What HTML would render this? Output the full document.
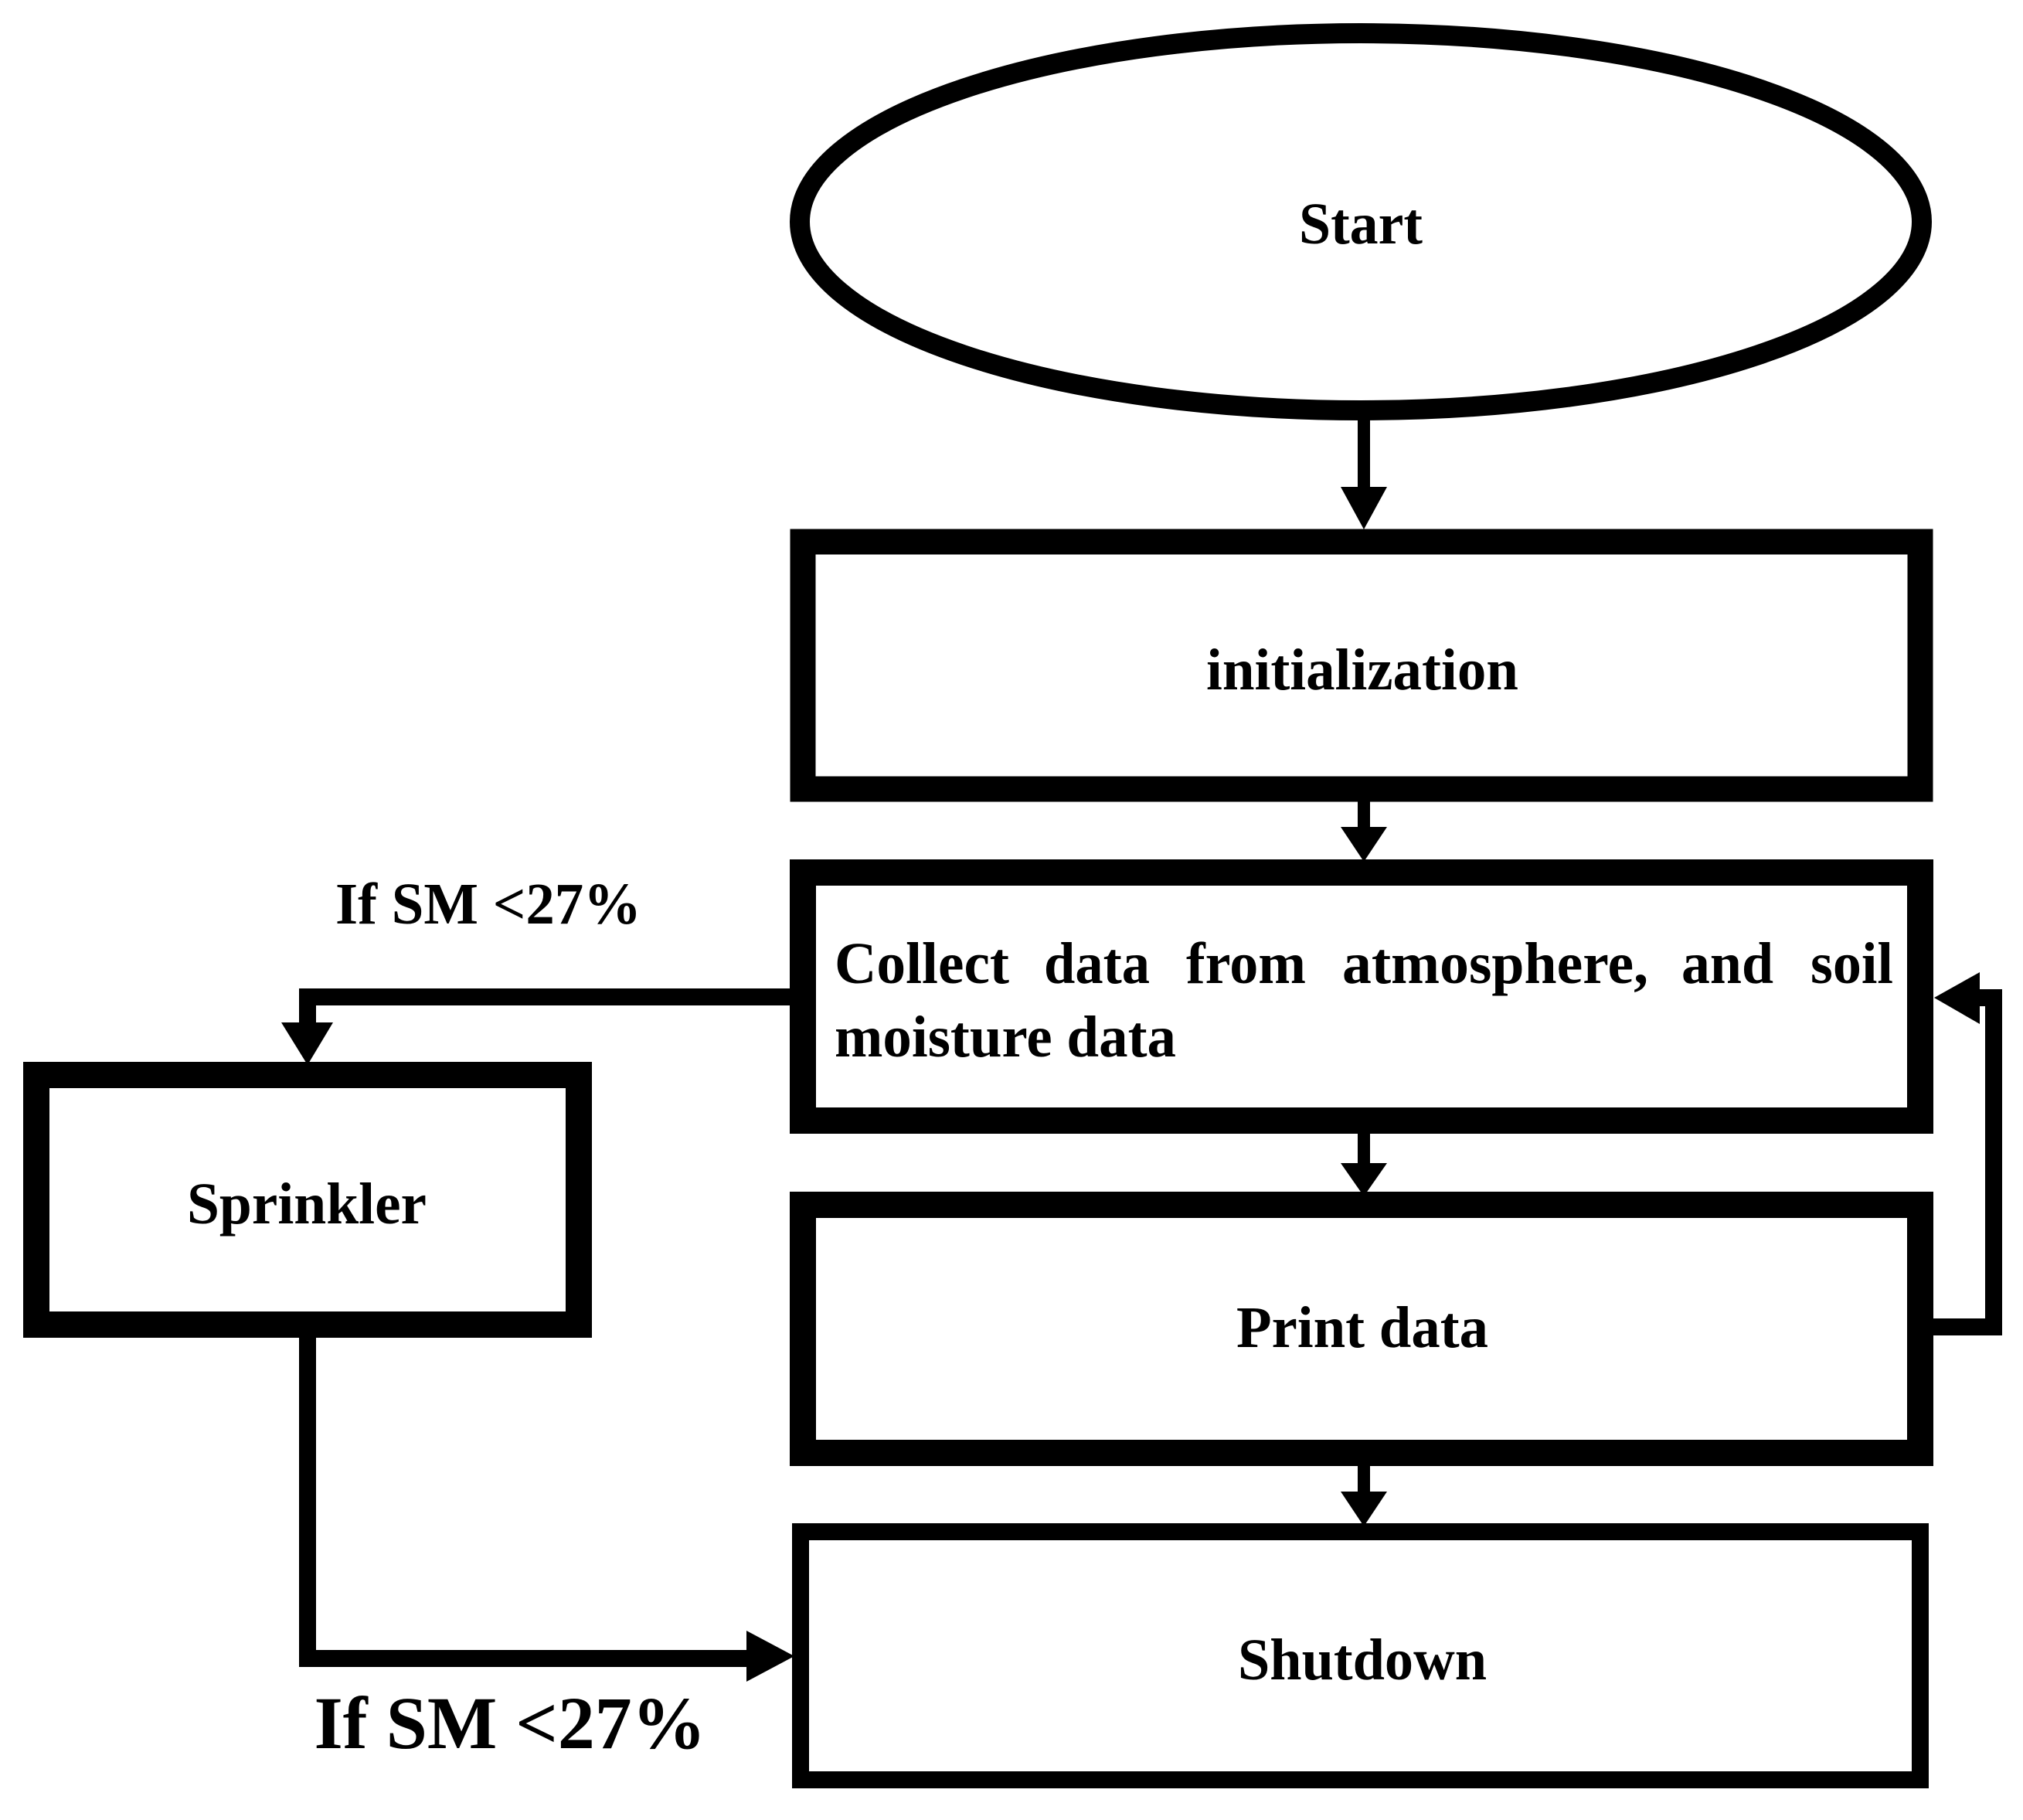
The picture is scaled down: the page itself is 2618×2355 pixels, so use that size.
<!DOCTYPE html>
<html><head><meta charset="utf-8"><style>html,body{margin:0;padding:0;background:#fff}svg{display:block}</style></head>
<body>
<svg width="2618" height="2355" viewBox="0 0 2618 2355" xmlns="http://www.w3.org/2000/svg">
<g fill="none" stroke="#000">
<ellipse cx="1761" cy="287" rx="726" ry="244" stroke-width="26"/>
<rect x="1039" y="701" width="1446" height="320" stroke-width="33"/>
<rect x="1039" y="1129" width="1446" height="321" stroke-width="34"/>
<rect x="1039" y="1559" width="1446" height="321" stroke-width="34"/>
<rect x="1036" y="1982" width="1449" height="321" stroke-width="22"/>
<rect x="47" y="1391" width="702" height="323" stroke-width="34"/>
<line x1="1765" y1="540" x2="1765" y2="640" stroke-width="16"/>
<line x1="1765" y1="1035" x2="1765" y2="1080" stroke-width="16"/>
<line x1="1765" y1="1467" x2="1765" y2="1510" stroke-width="16"/>
<line x1="1765" y1="1897" x2="1765" y2="1935" stroke-width="16"/>
<polyline points="1025,1290 398,1290 398,1330" stroke-width="22"/>
<polyline points="398,1731 398,2146 975,2146" stroke-width="22"/>
<polyline points="2501,1717 2580,1717 2580,1291 2555,1291" stroke-width="22"/>
</g>
<g fill="#000">
<polygon points="1735,630 1795,630 1765,685"/>
<polygon points="1735,1070 1795,1070 1765,1115"/>
<polygon points="1735,1505 1795,1505 1765,1548"/>
<polygon points="1735,1930 1795,1930 1765,1975"/>
<polygon points="364,1323 431,1323 398,1378"/>
<polygon points="966,2110 1028,2143 966,2176"/>
<polygon points="2562,1258 2562,1325 2503,1291"/>
</g>
<g font-family="'Liberation Serif', serif" font-weight="bold" font-size="76" fill="#000" text-anchor="middle">
<text x="1761" y="315" textLength="160" lengthAdjust="spacingAndGlyphs">Start</text>
<text x="1763" y="892" textLength="404" lengthAdjust="spacingAndGlyphs">initialization</text>
<text x="397" y="1583" textLength="310" lengthAdjust="spacingAndGlyphs">Sprinkler</text>
<text x="1763" y="1743" textLength="326" lengthAdjust="spacingAndGlyphs">Print data</text>
<text x="1763" y="2173" textLength="322" lengthAdjust="spacingAndGlyphs">Shutdown</text>
<text x="632" y="1195" textLength="396" lengthAdjust="spacingAndGlyphs">If SM &lt;27%</text>
<text x="660" y="2262" font-size="96" textLength="507" lengthAdjust="spacingAndGlyphs">If SM &lt;27%</text>
</g>
<g font-family="'Liberation Serif', serif" font-weight="bold" font-size="76" fill="#000">
<text x="1080" y="1272" textLength="226" lengthAdjust="spacingAndGlyphs">Collect</text>
<text x="1351" y="1272" textLength="137" lengthAdjust="spacingAndGlyphs">data</text>
<text x="1535" y="1272" textLength="155" lengthAdjust="spacingAndGlyphs">from</text>
<text x="1737" y="1272" textLength="396" lengthAdjust="spacingAndGlyphs">atmosphere,</text>
<text x="2176" y="1272" textLength="119" lengthAdjust="spacingAndGlyphs">and</text>
<text x="2343" y="1272" textLength="107" lengthAdjust="spacingAndGlyphs">soil</text>
<text x="1080" y="1367" textLength="442" lengthAdjust="spacingAndGlyphs">moisture data</text>
</g>
</svg>
</body></html>
